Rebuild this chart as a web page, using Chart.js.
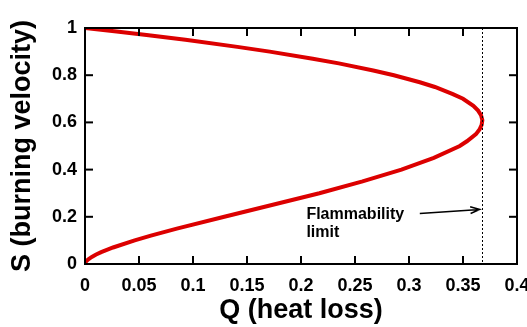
<!DOCTYPE html>
<html>
<head>
<meta charset="utf-8">
<script src="https://cdn.jsdelivr.net/npm/chart.js@4"></script>
<style>
  html, body { margin: 0; padding: 0; background: #fff; }
  #wrap { width: 527px; height: 327px; }
</style>
</head>
<body>
<div id="wrap"><canvas id="chart"></canvas></div>
<script>
// Burning velocity S against heat loss Q
const sValues = [0, 0.005, 0.01, 0.02, 0.03, 0.04, 0.05, 0.07, 0.1, 0.12, 0.15, 0.2, 0.25, 0.3, 0.35, 0.4, 0.45,
    0.5, 0.52, 0.55, 0.57, 0.59, 0.61, 0.63, 0.65, 0.67, 0.7, 0.72, 0.75, 0.77, 0.8, 0.82, 0.85, 0.87, 0.9,
    0.92, 0.95, 0.97, 0.985, 1];
const qValues = [0, 0.0003, 0.0009, 0.0031, 0.0063, 0.0103, 0.015, 0.026, 0.046, 0.061, 0.085, 0.129, 0.173, 0.217, 0.257, 0.293, 0.323,
    0.347, 0.3536, 0.362, 0.3653, 0.3673, 0.3679, 0.3667, 0.364, 0.3596, 0.350, 0.3406, 0.324, 0.310, 0.286, 0.2669, 0.235, 0.2109, 0.171,
    0.1411, 0.093, 0.057, 0.0293, 0];

const xTickLabels = ['0', '0.05', '0.1', '0.15', '0.2', '0.25', '0.3', '0.35', '0.4'];
const yTickLabels = ['0', '0.2', '0.4', '0.6', '0.8', '1'];

const limitQ = 0.368;
const noteLines = ['Flammability', 'limit'];

const points = sValues.map((s, i) => ({ x: qValues[i], y: s }));

// dotted limit line and the arrow note
const notePlugin = {
    id: 'limitNote',
    afterDatasetsDraw(chart) {
        const ctx = chart.ctx;
        const a = chart.chartArea;
        const xs = chart.scales.x, ys = chart.scales.y;
        ctx.save();
        ctx.fillStyle = '#000';
        const lx = Math.round(xs.getPixelForValue(limitQ));
        for (let yy = a.top; yy < a.bottom; yy += 4) ctx.fillRect(lx, yy, 1, 2);

        ctx.font = 'bold 16px "Liberation Sans", Arial, sans-serif';
        ctx.textBaseline = 'alphabetic';
        ctx.textAlign = 'left';
        const tx = xs.getPixelForValue(0.205);
        ctx.fillText(noteLines[0], tx, ys.getPixelForValue(0.189));
        ctx.fillText(noteLines[1], tx, ys.getPixelForValue(0.113));

        const x0 = xs.getPixelForValue(0.31), y0 = ys.getPixelForValue(0.214);
        const x1 = xs.getPixelForValue(0.3655), y1 = ys.getPixelForValue(0.231);
        const ang = Math.atan2(y1 - y0, x1 - x0);
        ctx.strokeStyle = '#000';
        ctx.lineWidth = 1.5;
        ctx.beginPath();
        ctx.moveTo(x0, y0);
        ctx.lineTo(x1, y1);
        ctx.moveTo(x1 - 10 * Math.cos(ang - 0.35), y1 - 10 * Math.sin(ang - 0.35));
        ctx.lineTo(x1, y1);
        ctx.lineTo(x1 - 10 * Math.cos(ang + 0.35), y1 - 10 * Math.sin(ang + 0.35));
        ctx.stroke();
        ctx.restore();
    }
};

// box round the plot with inward ticks on all four sides
const boxPlugin = {
    id: 'plotBox',
    afterDraw(chart) {
        const ctx = chart.ctx;
        const a = chart.chartArea;
        const xs = chart.scales.x, ys = chart.scales.y;
        const tl = 8;
        ctx.save();
        ctx.fillStyle = '#000';
        ctx.fillRect(a.left - 1, a.top - 1, a.right - a.left + 2, 2);
        ctx.fillRect(a.left - 1, a.bottom - 1, a.right - a.left + 2, 2);
        ctx.fillRect(a.left - 1, a.top - 1, 2, a.bottom - a.top + 2);
        ctx.fillRect(a.right - 1, a.top - 1, 2, a.bottom - a.top + 2);
        xs.ticks.forEach(t => {
            const px = xs.getPixelForValue(t.value);
            ctx.fillRect(px - 1, a.bottom - tl, 2, tl);
            ctx.fillRect(px - 1, a.top, 2, tl);
        });
        ys.ticks.forEach(t => {
            const py = ys.getPixelForValue(t.value);
            ctx.fillRect(a.left, py - 1, tl, 2);
            ctx.fillRect(a.right - tl, py - 1, tl, 2);
        });
        ctx.restore();
    }
};

const tickFont = { family: '"Liberation Sans", Arial, sans-serif', size: 18, weight: 'bold' };
const titleFont = { family: '"Liberation Sans", Arial, sans-serif', size: 27, weight: 'bold' };

new Chart(document.getElementById('chart'), {
    type: 'scatter',
    data: {
        datasets: [{
            data: points,
            showLine: true,
            borderColor: '#dc0000',
            borderWidth: 4,
            pointRadius: 0,
            tension: 0,
            fill: false
        }]
    },
    options: {
        responsive: true,
        maintainAspectRatio: false,
        animation: false,
        layout: { padding: { top: 28, right: 10, left: 0, bottom: 0 } },
        plugins: { legend: { display: false }, tooltip: { enabled: false } },
        scales: {
            x: {
                type: 'linear',
                min: 0, max: 0.4,
                grid: { display: false, drawTicks: false },
                border: { display: true, color: '#000', width: 2 },
                ticks: {
                    stepSize: 0.05,
                    color: '#000',
                    font: tickFont,
                    padding: 11,
                    maxRotation: 0,
                    callback: (v, i) => xTickLabels[i]
                },
                title: { display: true, text: 'Q (heat loss)', color: '#000', font: titleFont, padding: { top: 0, bottom: 0 } },
                afterFit: s => { s.height = 63; s.paddingLeft = 0; s.paddingRight = 0; }
            },
            y: {
                type: 'linear',
                min: 0, max: 1,
                grid: { display: false, drawTicks: false },
                border: { display: true, color: '#000', width: 2 },
                ticks: {
                    stepSize: 0.2,
                    color: '#000',
                    font: tickFont,
                    padding: 8,
                    callback: (v, i) => yTickLabels[i]
                },
                title: { display: true, text: 'S (burning velocity)', color: '#000', font: titleFont, padding: { top: 6, bottom: 0 } },
                afterFit: s => { s.width = 85; s.paddingTop = 0; s.paddingBottom = 0; }
            }
        }
    },
    plugins: [notePlugin, boxPlugin]
});
</script>
</body>
</html>
